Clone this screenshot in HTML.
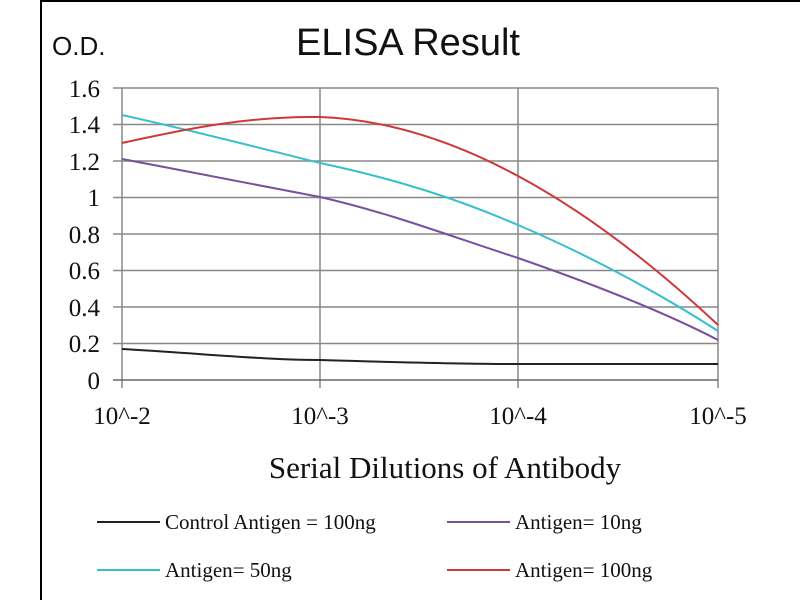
<!DOCTYPE html>
<html><head><style>
body{margin:0;background:#fff;}
svg{display:block}
text{font-family:"Liberation Serif",serif;fill:#111}
</style></head><body>
<svg width="800" height="600" viewBox="0 0 800 600">
<rect width="800" height="600" fill="#fff"/>
<line x1="41" y1="1" x2="800" y2="1" stroke="#000" stroke-width="2"/>
<line x1="41" y1="0" x2="41" y2="600" stroke="#000" stroke-width="2"/>
<text x="52" y="55" style="font-family:'Liberation Sans',sans-serif" font-size="26">O.D.</text>
<text x="408" y="55" text-anchor="middle" style="font-family:'Liberation Sans',sans-serif" font-size="38">ELISA Result</text>
<g stroke="#888" stroke-width="1.5">
<line x1="113" y1="88" x2="718" y2="88"/>
<line x1="113" y1="124.5" x2="718" y2="124.5"/>
<line x1="113" y1="161" x2="718" y2="161"/>
<line x1="113" y1="197.5" x2="718" y2="197.5"/>
<line x1="113" y1="234" x2="718" y2="234"/>
<line x1="113" y1="270.5" x2="718" y2="270.5"/>
<line x1="113" y1="307" x2="718" y2="307"/>
<line x1="113" y1="343.5" x2="718" y2="343.5"/>
<line x1="122" y1="88" x2="122" y2="388"/>
<line x1="320" y1="88" x2="320" y2="388"/>
<line x1="518" y1="88" x2="518" y2="388"/>
<line x1="718" y1="88" x2="718" y2="388"/>
</g>
<line x1="113" y1="380" x2="718" y2="380" stroke="#666" stroke-width="1.5"/>
<g font-size="25" text-anchor="end">
<text x="100" y="97">1.6</text><text x="100" y="133">1.4</text><text x="100" y="170">1.2</text>
<text x="100" y="206">1</text><text x="100" y="243">0.8</text><text x="100" y="279">0.6</text>
<text x="100" y="316">0.4</text><text x="100" y="352">0.2</text><text x="100" y="389">0</text>
</g>
<g font-size="25" text-anchor="middle">
<text x="122" y="424">10^-2</text><text x="320" y="424">10^-3</text>
<text x="518" y="424">10^-4</text><text x="718" y="424">10^-5</text>
</g>
<text x="445" y="478" text-anchor="middle" font-size="31">Serial Dilutions of Antibody</text>
<g fill="none" stroke-width="2">
<path d="M122,349 C220,355 270,360 320,360 C420,363 470,364 518,364 L718,364" stroke="#222"/>
<path d="M122,159 C190,172 260,185 320,197 C390,213 450,236 518,258 C590,283 660,310 718,340" stroke="#7a4f9c"/>
<path d="M122,115 C190,130 260,148 320,163 C400,180 460,200 518,225 C600,260 670,300 718,331" stroke="#35c0cc"/>
<path d="M122,143 C190,128 250,116 320,117 C400,120 470,150 518,176 C600,220 670,280 718,325" stroke="#d03838"/>
<line x1="97" y1="522" x2="160" y2="522" stroke="#222"/>
<line x1="447" y1="522" x2="510" y2="522" stroke="#7a4f9c"/>
<line x1="97" y1="570" x2="160" y2="570" stroke="#35c0cc"/>
<line x1="447" y1="570" x2="510" y2="570" stroke="#d03838"/>
</g>
<g font-size="21">
<text x="165" y="529">Control Antigen = 100ng</text>
<text x="515" y="529">Antigen= 10ng</text>
<text x="165" y="577">Antigen= 50ng</text>
<text x="515" y="577">Antigen= 100ng</text>
</g>
</svg>
</body></html>
